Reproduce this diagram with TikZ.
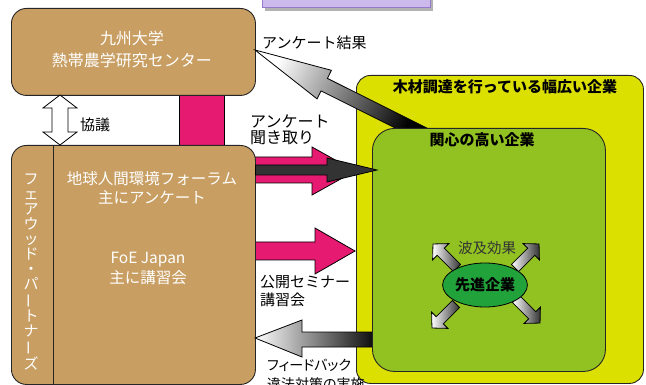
\documentclass[tikz,border=0pt]{standalone}
\usepackage{fontspec}
\usepackage{graphicx}
\setmainfont{Noto Sans CJK JP}
\newfontfamily\pfont{Noto Sans CJK JP}[RawFeature=+palt]
\usetikzlibrary{shapes.geometric,calc}
\definecolor{boxbrown}{RGB}{200,158,98}
\definecolor{mypink}{RGB}{230,26,112}
\definecolor{myyellow}{RGB}{220,224,0}
\definecolor{mygreen}{RGB}{145,194,34}
\definecolor{ellgreen}{RGB}{34,162,58}
\definecolor{lav}{RGB}{205,186,236}
\definecolor{lavborder}{RGB}{150,120,205}
\definecolor{darkarrow}{RGB}{51,51,51}
\newcommand{\smallarrow}[2]{%
  \begin{scope}[shift={#1}, rotate=#2]
    \draw[blockarrow, left color=white, right color=black!80] (0,-5) -- (23,-5) -- (23,-11.5) -- (34,0) -- (23,11.5) -- (23,5) -- (0,5) -- cycle;
  \end{scope}}
\begin{document}
\begin{tikzpicture}[x=1pt,y=-1pt,
  brownbox/.style={fill=boxbrown, draw=black!85, line width=0.9pt, rounded corners=15pt, inner sep=0pt, anchor=north west},
  wtxt/.style={text=white, align=center, inner sep=0pt},
  btxt/.style={text=black, align=left, inner sep=0pt, anchor=west},
  blockarrow/.style={draw=black, line width=0.8pt, line join=miter},
]
\useasboundingbox (0,0) rectangle (646,385);

% purple box at top
\fill[black!30] (265,-5) rectangle (433,11);
\node[fill=lav, draw=lavborder, line width=1.2pt, minimum width=168pt, minimum height=16pt, inner sep=0pt, anchor=south west] (purple) at (262,8) {};

% pink bar
\node[fill=mypink, draw=black, line width=0.8pt, minimum width=45pt, minimum height=60pt, inner sep=0pt, anchor=north west] (bar) at (179,90) {};

% pink arrows (tails under the box)
\draw[blockarrow, fill=mypink] (245,157) -- (312,157) -- (312,147) -- (355,171) -- (312,195) -- (312,183) -- (245,183) -- cycle;
\draw[blockarrow, fill=mypink] (245,242) -- (315,242) -- (315,228) -- (355,251) -- (315,274) -- (315,260) -- (245,260) -- cycle;

% brown boxes
\node[brownbox, minimum width=244pt, minimum height=87pt] (kyushu) at (11,8) {};
\node[brownbox, minimum width=244pt, minimum height=239pt] (forum) at (11,145) {};
\draw[black!85, line width=0.8pt] ($(forum.north west)+(42,0)$) -- ($(forum.south west)+(42,0)$);

% double arrow
\draw[blockarrow, fill=white] (60,95) -- (77,108) -- (68,108) -- (68,132) -- (77,132) -- (60,145) -- (43,132) -- (52,132) -- (52,108) -- (43,108) -- cycle;

% yellow box
\node[fill=myyellow, draw=black!85, line width=0.9pt, rounded corners=14pt, minimum width=287pt, minimum height=308pt, inner sep=0pt, anchor=north west] (wide) at (356,75) {};

% survey result arrow
\draw[blockarrow, top color=white, bottom color=black, shading angle=63.4] (427.6,128.4) -- (327.4,78.4) -- (331.4,70.3) -- (255,50) -- (317.1,98.9) -- (321.1,90.9) -- (421.3,141.0) -- cycle;

% feedback arrow
\draw[blockarrow, left color=white, right color=black] (255,338) -- (302,320) -- (302,332) -- (380,332) -- (380,347) -- (302,347) -- (302,357) -- cycle;

% green box
\node[fill=mygreen, draw=black!85, line width=0.9pt, rounded corners=22pt, minimum width=233pt, minimum height=243pt, inner sep=0pt, anchor=north west] (interest) at (372,128) {};

% dark arrow
\draw[blockarrow, fill=darkarrow] (255.5,165) -- (327,165) -- (327,158) -- (377,170) -- (327,182) -- (327,175) -- (255.5,175) -- cycle;

% small arrows
\smallarrow{(457,268)}{135}
\smallarrow{(515,268)}{45}
\smallarrow{(456,304)}{225}
\smallarrow{(516,299)}{-45}

% ellipse
\node[ellipse, fill=ellgreen, draw=black, line width=0.8pt, minimum width=80pt, minimum height=44pt, inner sep=0pt, font=\fontsize{15}{18}\selectfont\bfseries] (adv) at (485,285) {先進企業};

% white texts
\node[wtxt, font=\fontsize{16}{22}\selectfont] (t1) at (132,49) {九州大学\\熱帯農学研究センター};
\node[wtxt, font=\fontsize{15.5}{19}\selectfont] (t2) at (152,187.5) {地球人間環境フォーラム\\主にアンケート};
\node[wtxt, font=\fontsize{15.5}{20}\selectfont] (t3) at (148,268) {FoE Japan\\主に講習会};
\node[wtxt, font=\fontsize{15}{15}\selectfont] (t4) at (31,272) {フ\\ェ\\ア\\ウ\\ッ\\ド\\・\\パ\\\rotatebox[origin=c]{90}{ー}\\ト\\ナ\\\rotatebox[origin=c]{90}{ー}\\ズ};

% black labels
\node[btxt, font=\fontsize{15}{17}\selectfont] (l1) at (262,43) {アンケート結果};
\node[btxt, font=\fontsize{16}{16}\selectfont] (l2) at (250,129.5) {アンケート\\聞き取り};
\node[btxt, font=\fontsize{15}{18}\selectfont] (l3) at (260,291) {公開セミナー\\講習会};
\node[btxt, font=\fontsize{14}{19}\selectfont\pfont] (l4) at (267,374.5) {フィードバック\\違法対策の実施};
\node[btxt, font=\fontsize{15}{17}\selectfont] (l5) at (80,125) {協議};
\node[inner sep=0pt, font=\fontsize{15}{17}\selectfont\bfseries] (l6) at (505,87) {木材調達を行っている幅広い企業};
\node[inner sep=0pt, font=\fontsize{15}{17}\selectfont\bfseries] (l7) at (482,140) {関心の高い企業};
\node[inner sep=0pt, text=black!80, font=\fontsize{14.5}{17}\selectfont] (l8) at (487,248) {波及効果};
\end{tikzpicture}
\end{document}
